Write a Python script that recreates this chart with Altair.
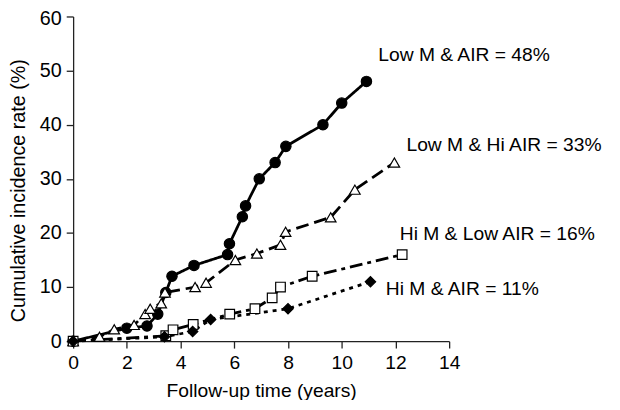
import altair as alt
import pandas as pd

# ---- data ----
s1_x = [0, 2.0, 2.75, 3.15, 3.45, 3.68, 4.5, 5.75, 5.82, 6.3, 6.42, 6.93, 7.52, 7.92, 9.3, 10.0, 10.92]
s1_y = [0, 2.4, 2.8, 5.0, 9.0, 12.0, 14.0, 16.0, 18.0, 23.0, 25.0, 30.0, 33.0, 36.0, 40.0, 44.0, 48.0]

s2_x = [0, 0.98, 1.53, 2.27, 2.68, 2.87, 3.28, 3.42, 4.54, 4.95, 6.04, 6.84, 7.72, 7.91, 9.59, 10.49, 11.96]
s2_y = [0, 0.8, 2.2, 3.0, 5.0, 6.0, 7.0, 9.0, 10.0, 10.8, 15.0, 16.2, 17.8, 20.2, 22.9, 28.0, 33.0]

s3_x = [0, 3.45, 3.72, 4.47, 5.83, 6.77, 7.41, 7.72, 8.9, 12.25]
s3_y = [0, 1.0, 2.1, 3.1, 5.0, 6.0, 8.0, 10.0, 12.0, 16.0]

s4_x = [0, 3.4, 4.45, 5.12, 8.0, 11.07]
s4_y = [0, 0.8, 1.8, 4.0, 6.0, 11.0]

series_names = ["Low M & AIR", "Low M & Hi AIR", "Hi M & Low AIR", "Hi M & AIR"]
label_texts = ["Low M & AIR = 48%", "Low M & Hi AIR = 33%", "Hi M & Low AIR = 16%", "Hi M & AIR = 11%"]

x_ticks = [0, 2, 4, 6, 8, 10, 12, 14]
y_ticks = [0, 10, 20, 30, 40, 50, 60]

# ---- annotation anchor positions (data units) ----
label_x = [11.36, 12.41, 12.16, 11.64]
label_y = [51.8, 35.2, 18.7, 8.6]

# ---- styles ----
styles = [
    dict(dash=[1, 0], shape="circle", fill="black", size=110),
    dict(dash=[13, 6], shape="triangle-up", fill="white", size=115),
    dict(dash=[13, 5, 4, 5], shape="square", fill="white", size=95),
    dict(dash=[4, 5], shape="diamond", fill="black", size=110),
]

FONT = "Liberation Sans"

xs = [s1_x, s2_x, s3_x, s4_x]
ys = [s1_y, s2_y, s3_y, s4_y]

xscale = alt.Scale(domain=[0, 14], nice=False, zero=False)
yscale = alt.Scale(domain=[0, 60], nice=False)

xaxis = alt.Axis(values=x_ticks, title="Follow-up time (years)", grid=False,
                 labelFontSize=19.5, titleFontSize=19.5, labelFont=FONT, titleFont=FONT,
                 labelColor="black", titleColor="black", titleFontWeight="normal",
                 domainColor="#222", tickColor="#222", tickSize=7, labelPadding=6,
                 titlePadding=10, domainWidth=1.3, tickWidth=1.3, labelFlush=False)
yaxis = alt.Axis(values=y_ticks, title="Cumulative incidence rate (%)", grid=False,
                 labelFontSize=20, titleFontSize=20, labelFont=FONT, titleFont=FONT,
                 labelColor="black", titleColor="black", titleFontWeight="normal",
                 domainColor="#222", tickColor="#222", tickSize=7, labelPadding=5,
                 labelOffset={"condition": {"test": "datum.value == 60", "value": 2}, "value": 0},
                 titleX=-45, titleY=176, titleAnchor="middle",
                 domainWidth=1.3, tickWidth=1.3, labelFlush=False)

X = alt.X("x:Q", scale=xscale, axis=xaxis)
Y = alt.Y("y:Q", scale=yscale, axis=yaxis)

layers = []
for i, name in enumerate(series_names):
    df = pd.DataFrame({"x": xs[i], "y": ys[i], "series": name})
    st = styles[i]
    line = alt.Chart(df).mark_line(color="black", strokeWidth=2.8,
                                   strokeDash=st["dash"], clip=False).encode(
        x=X, y=Y, order="x:Q",
    )
    layers.append(line)

for i, name in enumerate(series_names):
    df = pd.DataFrame({"x": xs[i], "y": ys[i], "series": name})
    st = styles[i]
    pts = alt.Chart(df).mark_point(shape=st["shape"], filled=True, fill=st["fill"],
                                   stroke="black", strokeWidth=1.2, size=st["size"],
                                   opacity=1, clip=False).encode(x=X, y=Y)
    layers.append(pts)

lab_df = pd.DataFrame({"x": label_x, "y": label_y, "text": label_texts})
labels = alt.Chart(lab_df).mark_text(align="left", baseline="alphabetic", fontSize=19.5,
                                     font=FONT, color="black", clip=False).encode(
    x=X, y=Y, text="text:N",
)
layers.append(labels)

chart = alt.layer(*layers).properties(
    width=381, height=329,
    autosize=alt.AutoSizeParams(type="none"),
    padding={"left": 66, "top": 6, "right": 165, "bottom": 57},
    background="white",
).configure_view(stroke=None)

chart.save("out.html", embed_options={"renderer": "svg", "actions": False})
